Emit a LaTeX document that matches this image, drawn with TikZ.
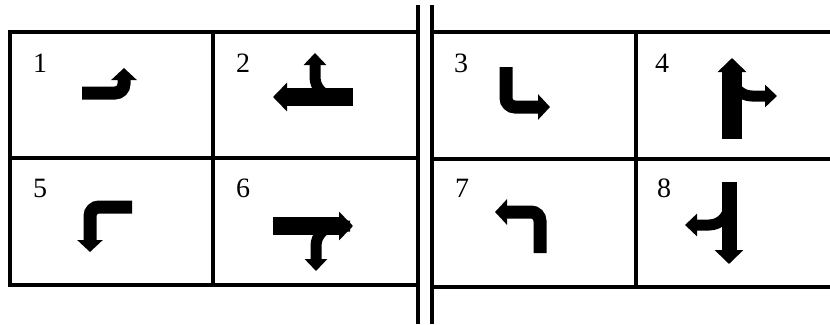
\documentclass[tikz,border=0pt]{standalone}
\usepackage{fontspec}
\setmainfont{Liberation Serif}
\usetikzlibrary{arrows.meta}

\tikzset{
  grid/.style={line width=4.5pt},
  turn/.style={line width=13pt, rounded corners=9pt, -{Triangle[width=25pt,length=12pt]}},
  main/.style={line width=#1, -{Triangle[width=28pt,length=14pt]}},
  main/.default=18pt,
  branch/.style={line width=11pt, rounded corners=20pt, -{Triangle[width=22pt,length=12pt]}},
  num/.style={font=\fontsize{28}{30}\selectfont, inner sep=0pt}
}

\begin{document}
\begin{tikzpicture}[x=1pt,y=-1pt]
  \useasboundingbox (0,0) rectangle (830,324);
  % left table
  \draw[grid] (10,32) rectangle (418,285);
  \draw[grid] (213,32) -- (213,285) (10,158) -- (418,158);
  % right table
  \draw[grid] (432,32) -- (840,32) (432,159) -- (840,159) (432,287) -- (840,287);
  \draw[grid] (636,32) -- (636,287);
  % double line
  \draw[grid] (418,5) -- (418,324) (432,5) -- (432,324);

  \foreach \n/\x/\y in {1/40/63, 2/243/63, 3/461/63, 4/662/63,
                        5/40/188, 6/243/188, 7/462/188, 8/664/188}
    \node[num] (n\n) at (\x,\y) {\n};

  % 1
  \draw[turn] (82,93) -- (124,93) -- (124,68);
  % 2
  \draw[main] (353,97) -- (273,97);
  \draw[branch] (350,97) -- (315,97) -- (315,53);
  % 3
  \draw[turn] (506,67) -- (506,107) -- (550,107);
  % 4
  \draw[main=20pt] (732,139) -- (732,58);
  \draw[branch] (732,70) -- (732,96) -- (777,96);
  % 5
  \draw[turn] (132,207) -- (90,207) -- (90,252);
  % 6
  \draw[main] (273,226) -- (353,226);
  \draw[branch] (350,226) -- (316,226) -- (316,271);
  % 7
  \draw[turn] (540,253) -- (540,212) -- (495,212);
  % 8
  \draw[main=15pt] (729,182) -- (729,264);
  \draw[branch] (729,198) -- (729,225) -- (685,225);
\end{tikzpicture}
\end{document}
